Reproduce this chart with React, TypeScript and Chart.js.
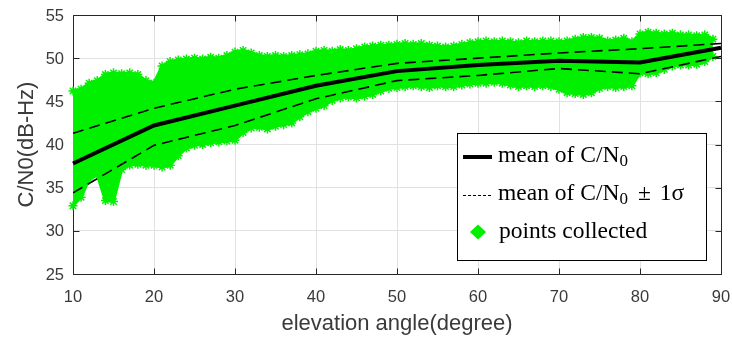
import { useEffect, useRef } from "react";
import { Chart, registerables } from "chart.js";

Chart.register(...registerables);

// Mean C/N0 and ±1σ bounds per 10° elevation bin
const elevation = [10, 20, 30, 40, 50, 60, 70, 80, 90];
const meanCN0 = [37.8, 42.2, 44.5, 46.8, 48.5, 49.2, 49.7, 49.5, 51.2];
const meanPlusSigma = [41.3, 44.2, 46.4, 48.0, 49.4, 50.0, 50.6, 51.1, 51.7];
const meanMinusSigma = [34.4, 39.9, 42.2, 45.3, 47.4, 48.0, 48.8, 48.2, 50.2];

// Extent of the collected samples, per degree of elevation
const cloudAngles = [
  10, 11, 12, 13, 14, 15, 16, 17, 18, 19,
  20, 21, 22, 23, 24, 25, 26, 27, 28, 29,
  30, 31, 32, 33, 34, 35, 36, 37, 38, 39,
  40, 41, 42, 43, 44, 45, 46, 47, 48, 49,
  50, 51, 52, 53, 54, 55, 56, 57, 58, 59,
  60, 61, 62, 63, 64, 65, 66, 67, 68, 69,
  70, 71, 72, 73, 74, 75, 76, 77, 78, 79,
  80, 81, 82, 83, 84, 85, 86, 87, 88, 89,
];
const cloudTop = [
  46.2, 46.4, 47.1, 47.4, 48.1, 48.3, 48.2, 48.3, 48.1, 47.4,
  47.1, 49.1, 49.6, 49.8, 49.9, 50.0, 49.9, 50.1, 50.0, 50.3,
  50.7, 50.9, 50.6, 50.3, 50.2, 50.3, 50.2, 50.3, 50.4, 50.5,
  50.8, 50.9, 50.8, 51.0, 50.9, 51.1, 51.3, 51.4, 51.5, 51.5,
  51.6, 51.7, 51.6, 51.7, 51.5, 51.4, 51.3, 51.4, 51.6, 51.8,
  51.9, 52.0, 51.9, 52.0, 51.9, 51.8, 52.0, 51.9, 52.0, 52.0,
  51.9, 52.0, 52.2, 52.4, 52.4, 52.3, 52.0, 52.1, 52.3, 51.9,
  52.8, 53.0, 52.9, 52.8, 52.9, 52.7, 52.7, 52.6, 52.7, 52.2,
];
const cloudBottom = [
  32.9, 33.9, 36.0, 36.5, 33.5, 33.4, 37.1, 37.6, 37.7, 37.6,
  37.6, 37.4, 37.6, 38.7, 39.6, 39.9, 40.0, 40.2, 40.3, 40.4,
  40.5, 41.4, 41.9, 42.0, 41.8, 42.1, 42.3, 42.5, 43.2, 43.8,
  44.2, 44.5, 45.1, 45.4, 45.5, 45.4, 45.6, 45.8, 46.2, 46.5,
  46.6, 46.7, 46.8, 46.7, 46.6, 46.8, 46.7, 46.7, 46.9, 47.0,
  47.1, 47.1, 47.2, 47.1, 46.9, 46.7, 46.8, 46.7, 46.8, 46.7,
  46.4, 46.0, 45.9, 45.8, 46.0, 46.5, 46.7, 46.6, 46.7, 46.8,
  48.3, 48.2, 48.3, 48.7, 49.1, 49.2, 49.2, 49.3, 49.6, 50.2,
];

const xTickValues = [10, 20, 30, 40, 50, 60, 70, 80, 90];
const yTickValues = [25, 30, 35, 40, 45, 50, 55];

const GREEN = "#00f000";
const AXIS = "#262626";
const LABEL = "#3a3a3a";
const SANS = '"Liberation Sans", Arial, sans-serif';
const SERIF = '"Liberation Serif", "Times New Roman", serif';

const toXY = (xs: number[], ys: number[]) => xs.map((x, i) => ({ x, y: ys[i] }));

// Box around the axes with inward-pointing tick marks and tick labels
const framePlugin = {
  id: "frame",
  beforeDatasetsDraw(chart: any) {
    const { ctx, chartArea, scales } = chart;
    const l = Math.round(chartArea.left) + 0.5;
    const r = Math.round(chartArea.right) + 0.5;
    const t = Math.round(chartArea.top) + 0.5;
    const b = Math.round(chartArea.bottom) + 0.5;
    const len = 6;
    ctx.save();
    ctx.strokeStyle = AXIS;
    ctx.lineWidth = 1;
    ctx.beginPath();
    ctx.rect(l, t, r - l, b - t);
    for (const v of xTickValues) {
      const px = Math.round(scales.x.getPixelForValue(v)) + 0.5;
      ctx.moveTo(px, b);
      ctx.lineTo(px, b - len);
      ctx.moveTo(px, t);
      ctx.lineTo(px, t + len);
    }
    for (const v of yTickValues) {
      const py = Math.round(scales.y.getPixelForValue(v)) + 0.5;
      ctx.moveTo(l, py);
      ctx.lineTo(l + len, py);
      ctx.moveTo(r, py);
      ctx.lineTo(r - len, py);
    }
    ctx.stroke();

    ctx.fillStyle = LABEL;
    ctx.font = `16.5px ${SANS}`;
    ctx.textBaseline = "middle";
    ctx.textAlign = "center";
    for (const v of xTickValues) {
      ctx.fillText(String(v), scales.x.getPixelForValue(v), chartArea.bottom + 23);
    }
    ctx.textAlign = "right";
    for (const v of yTickValues) {
      ctx.fillText(String(v), chartArea.left - 9, scales.y.getPixelForValue(v) + 1);
    }
    ctx.restore();
  },
};

// Axis titles and the boxed legend in the lower right of the axes
const annotationPlugin = {
  id: "annotations",
  afterDraw(chart: any) {
    const { ctx, chartArea } = chart;
    const midX = (chartArea.left + chartArea.right) / 2;
    const midY = (chartArea.top + chartArea.bottom) / 2;

    ctx.save();
    ctx.fillStyle = LABEL;
    ctx.font = `22px ${SANS}`;
    ctx.textAlign = "center";
    ctx.textBaseline = "alphabetic";
    ctx.fillText("elevation angle(degree)", midX, chartArea.bottom + 56);
    ctx.translate(33, midY);
    ctx.rotate(-Math.PI / 2);
    ctx.fillText("C/N0(dB-Hz)", 0, 0);
    ctx.restore();

    // legend
    const w = 249;
    const h = 127;
    const lx = Math.round(chartArea.right) - 15 - w;
    const ly = Math.round(chartArea.bottom) - 14 - h;
    ctx.save();
    ctx.fillStyle = "#ffffff";
    ctx.fillRect(lx, ly, w, h);
    ctx.strokeStyle = "#000000";
    ctx.lineWidth = 1;
    ctx.strokeRect(lx + 0.5, ly + 0.5, w, h);

    const sx0 = lx + 6;
    const sx1 = lx + 35;
    const tx = lx + 41;
    const rows = [ly + 24, ly + 62, ly + 99];

    ctx.strokeStyle = "#000";
    ctx.lineWidth = 4;
    ctx.beginPath();
    ctx.moveTo(sx0, rows[0]);
    ctx.lineTo(sx1, rows[0]);
    ctx.stroke();

    ctx.lineWidth = 1;
    ctx.setLineDash([3, 2]);
    ctx.beginPath();
    ctx.moveTo(sx0, rows[1] + 0.5);
    ctx.lineTo(sx1, rows[1] + 0.5);
    ctx.stroke();
    ctx.setLineDash([]);

    const dx = lx + 21;
    const dy = rows[2];
    ctx.fillStyle = GREEN;
    ctx.beginPath();
    ctx.moveTo(dx, dy - 7.5);
    ctx.lineTo(dx + 8, dy);
    ctx.lineTo(dx, dy + 7.5);
    ctx.lineTo(dx - 8, dy);
    ctx.closePath();
    ctx.fill();

    ctx.fillStyle = "#000";
    ctx.textAlign = "left";
    ctx.textBaseline = "alphabetic";
    const main = `23.5px ${SERIF}`;
    const sub = `17px ${SERIF}`;

    const drawMean = (baseline: number) => {
      ctx.font = main;
      ctx.fillText("mean of C/N", tx, baseline);
      let x = tx + ctx.measureText("mean of C/N").width;
      ctx.font = sub;
      ctx.fillText("0", x, baseline + 4);
      x += ctx.measureText("0").width;
      return x;
    };

    drawMean(rows[0] + 5);
    let x = drawMean(rows[1] + 5);
    ctx.font = main;
    x += 10;
    ctx.fillText("±", x, rows[1] + 5);
    x += ctx.measureText("±").width + 9;
    ctx.fillText("1σ", x, rows[1] + 5);

    ctx.fillText("points collected", tx + 1, rows[2] + 6);
    ctx.restore();
  },
};

export default function App() {
  const canvasRef = useRef<HTMLCanvasElement | null>(null);

  useEffect(() => {
    const canvas = canvasRef.current;
    if (!canvas) return;

    const chart = new Chart(canvas, {
      type: "line",
      data: {
        datasets: [
          {
            label: "mean of C/N0",
            data: toXY(elevation, meanCN0),
            borderColor: "#000000",
            borderWidth: 4,
            pointRadius: 0,
            fill: false,
            order: 1,
            clip: 4,
          },
          {
            label: "mean + 1σ",
            data: toXY(elevation, meanPlusSigma),
            borderColor: "#000000",
            borderWidth: 1.6,
            borderDash: [11, 6],
            pointRadius: 0,
            fill: false,
            order: 2,
          },
          {
            label: "mean - 1σ",
            data: toXY(elevation, meanMinusSigma),
            borderColor: "#000000",
            borderWidth: 1.6,
            borderDash: [11, 6],
            pointRadius: 0,
            fill: false,
            order: 2,
          },
          {
            label: "points collected (upper)",
            data: toXY(cloudAngles, cloudTop),
            borderColor: GREEN,
            borderWidth: 3,
            pointStyle: "star",
            pointRadius: 4.5,
            pointBorderWidth: 1.5,
            pointBorderColor: GREEN,
            pointBackgroundColor: GREEN,
            fill: false,
            order: 3,
            clip: 6,
          },
          {
            label: "points collected",
            data: toXY(cloudAngles, cloudBottom),
            borderColor: GREEN,
            borderWidth: 3,
            backgroundColor: GREEN,
            pointStyle: "star",
            pointRadius: 4.5,
            pointBorderWidth: 1.5,
            pointBorderColor: GREEN,
            pointBackgroundColor: GREEN,
            fill: "-1",
            order: 3,
            clip: 6,
          },
        ],
      },
      options: {
        responsive: false,
        animation: false,
        devicePixelRatio: 1,
        layout: { padding: { top: 15, right: 11, left: 0, bottom: 0 } },
        plugins: {
          legend: { display: false },
          tooltip: { enabled: false },
        },
        scales: {
          x: {
            type: "linear",
            min: 10,
            max: 90,
            ticks: { stepSize: 10, display: false },
            grid: { color: "#e1e1e1", lineWidth: 1, drawTicks: false },
            border: { display: false },
            afterFit(scale: any) {
              scale.height = 68;
            },
          },
          y: {
            type: "linear",
            min: 25,
            max: 55,
            ticks: { stepSize: 5, display: false },
            grid: { color: "#e1e1e1", lineWidth: 1, drawTicks: false },
            border: { display: false },
            afterFit(scale: any) {
              scale.width = 73;
            },
          },
        },
      },
      plugins: [framePlugin, annotationPlugin],
    });

    return () => chart.destroy();
  }, []);

  return (
    <canvas
      ref={canvasRef}
      width={732}
      height={342}
      style={{ position: "fixed", left: 0, top: 0, display: "block", background: "#ffffff" }}
    />
  );
}
